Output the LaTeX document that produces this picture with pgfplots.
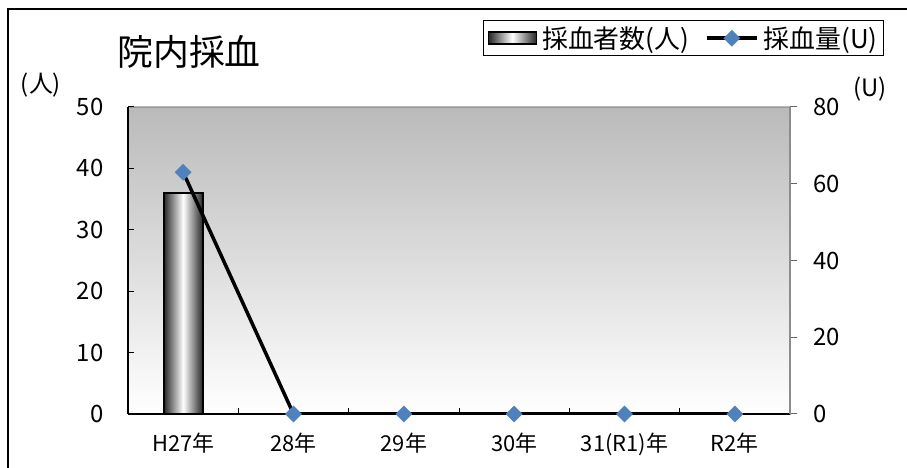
\documentclass[border=0pt]{standalone}
\usepackage{fontspec}
\setmainfont{Noto Sans CJK JP}
\usepackage{pgfplots}
\pgfplotsset{compat=1.18}
\definecolor{mk}{RGB}{79,129,189}
\pgfplotsset{my line legend/.style={legend image code/.code={\draw[mark repeat=2,mark phase=2,##1] plot coordinates {(0bp,0bp) (25bp,0bp) (50bp,0bp)};}}}
\begin{document}
\begin{tikzpicture}[x=1bp,y=1bp]
\path[use as bounding box] (0,0) rectangle (907,468);
\draw[line width=1.5bp] (8,0) -- (8,459) -- (907,459);
\begin{axis}[
  at={(128bp,54bp)}, anchor=south west,
  scale only axis, width=662bp, height=307bp,
  xmin=-0.5, xmax=5.5, ymin=0, ymax=50,
  axis x line*=bottom, axis y line*=left,
  axis line style={line width=1.5bp, black, -},
  axis background/.style={top color=black!27, bottom color=white, draw=black!40},
  ytick={0,10,...,50},
  xtick={0.5,1.5,...,4.5}, xticklabels={},
  extra x ticks={0,...,5},
  extra x tick labels={H27年,28年,29年,30年,31(R1)年,R2年},
  extra x tick style={major tick length=0pt},
  tick align=inside, major tick length=6bp,
  tick style={line width=1bp, black},
  /pgf/number format/assume math mode=true,
  tick label style={font=\fontsize{24}{28}\selectfont},
  xticklabel style={yshift=-15bp, font=\fontsize{22}{26}\selectfont},
  yticklabel style={xshift=-21bp},
]
\addplot[ybar, bar width=39bp, draw=black, line width=2bp,
  left color=black!85, right color=black!85, middle color=white]
  coordinates {(0,36)};
\end{axis}
\begin{axis}[
  at={(128bp,54bp)}, anchor=south west,
  scale only axis, width=662bp, height=307bp,
  xmin=-0.5, xmax=5.5, ymin=0, ymax=80,
  axis x line=none, axis y line*=right,
  axis line style={line width=2.5bp, black!45, -},
  ytick={0,20,...,80},
  tick align=outside, major tick length=7bp,
  tick style={line width=1bp, black!60},
  /pgf/number format/assume math mode=true,
  tick label style={font=\fontsize{24}{28}\selectfont},
  yticklabel style={xshift=13bp},
  legend columns=-1,
  legend style={at={(1.142,1.283)}, anchor=north east, draw=black, line width=1bp,
    font=\fontsize{26}{30}\selectfont, inner xsep=4bp, inner ysep=4bp,
    /tikz/every odd column/.append style={column sep=3bp},
    /tikz/every even column/.append style={column sep=14bp}},
]
\addlegendimage{legend image code/.code={\draw[draw=black,line width=1.5bp,left color=black!85,right color=black!85,middle color=white] (0bp,-6bp) rectangle (48bp,6bp);}}
\addlegendentry{採血者数(人)}
\addplot[black, line width=3.5bp, mark=square*, mark size=5.8bp,
  mark options={rotate=45, fill=mk, draw=mk, line width=0.1bp}, my line legend]
  coordinates {(0,63) (1,0) (2,0) (3,0) (4,0) (5,0)};
\addlegendentry{採血量(U)}
\end{axis}
\node[font=\fontsize{36}{42}\selectfont] at (189,416) {院内採血};
\node[font=\fontsize{24}{28}\selectfont] at (41,383) {(人)};
\node[font=\fontsize{24}{28}\selectfont] at (870,379) {(U)};
\end{tikzpicture}
\end{document}
